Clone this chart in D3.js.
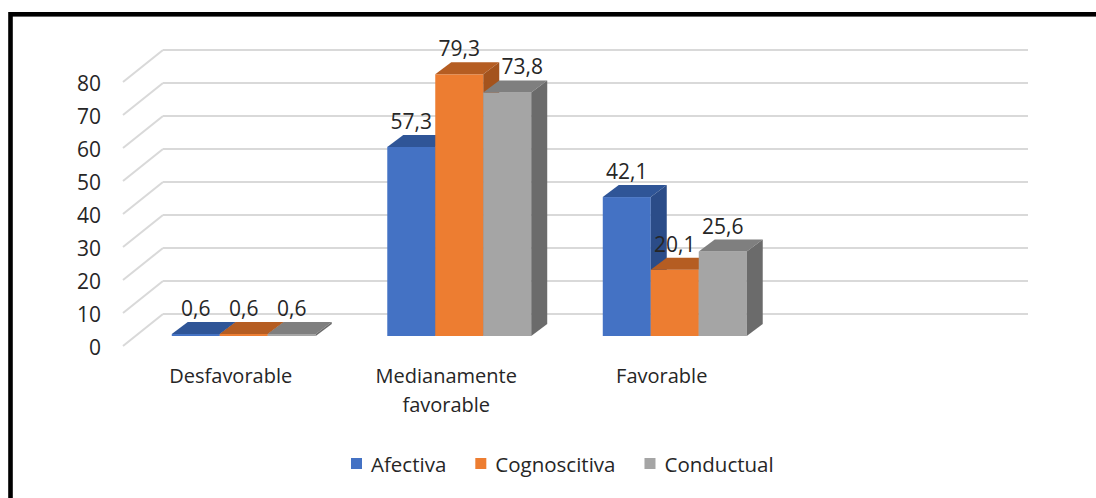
<!DOCTYPE html>
<html>
<head>
<meta charset="utf-8">
<script src="https://cdn.jsdelivr.net/npm/d3@7"></script>
<style>
  html, body { margin: 0; padding: 0; background: #fff; }
  svg { display: block; }
  text { font-family: "Open Sans", "Noto Sans", sans-serif; fill: #262626; }
</style>
</head>
<body>
<svg id="chart" width="1096" height="498"></svg>
<script>
// ---- data ----
const categories = ["Desfavorable", "Medianamente favorable", "Favorable"];
const series = ["Afectiva", "Cognoscitiva", "Conductual"];
const afectiva = [0.6, 57.3, 42.1];
const cognoscitiva = [0.6, 79.3, 20.1];
const conductual = [0.6, 73.8, 25.6];
const yTicks = [0, 10, 20, 30, 40, 50, 60, 70, 80];
const seriesValues = [afectiva, cognoscitiva, conductual];

const colors = {
  front: ["#4472C4", "#ED7D31", "#A5A5A5"],
  top:   ["#2F5597", "#B55D22", "#7F7F7F"],
  side:  ["#2B4C88", "#A4531D", "#6B6B6B"]
};

const svg = d3.select("#chart");

// frame
svg.append("rect")
  .attr("x", 10.5).attr("y", 14.3)
  .attr("width", 1200).attr("height", 600)
  .attr("fill", "none").attr("stroke", "#000").attr("stroke-width", 4.6);

// ---- scales ----
// Excel leaves an empty 4th category slot on the axis
const slots = categories.concat(["\u00a0"]);
const x = d3.scaleBand().domain(slots).range([136, 998])
  .paddingInner(0.332).paddingOuter(0.166);
const xs = d3.scaleBand().domain(series).range([0, x.bandwidth()]);
const y = d3.scaleLinear().domain([0, 80]).range([336, 72]); // bar plane

const backDX = 0, backDY = -22;   // back wall relative to bar plane
const frontDX = -40, frontDY = 10; // floor front edge relative to bar plane
const wallLeft = 163, wallRight = 1028;
const depthX = 16, depthY = -12;   // bar depth

// ---- gridlines ----
const grid = svg.append("g");
yTicks.forEach(v => {
  const yb = y(v) + backDY;
  const yf = y(v) + frontDY;
  grid.append("line")
    .attr("x1", wallLeft).attr("x2", wallRight)
    .attr("y1", yb).attr("y2", yb)
    .attr("stroke", "#D9D9D9").attr("stroke-width", 2);
  grid.append("line")
    .attr("x1", wallLeft + frontDX).attr("y1", yf)
    .attr("x2", wallLeft).attr("y2", yb)
    .attr("stroke", "#D9D9D9").attr("stroke-width", 2);
  svg.append("text")
    .attr("x", 101).attr("y", yf + 1)
    .attr("text-anchor", "end").attr("dominant-baseline", "central")
    .style("font-size", "21px")
    .text(v);
});

// ---- bars ----
const bars = svg.append("g");
categories.forEach((c, ci) => {
  series.forEach((s, si) => {
    const v = seriesValues[si][ci];
    const x0 = x(c) + xs(s), w = xs.bandwidth();
    const yt = y(v), yb = y(0);
    bars.append("rect")
      .attr("x", x0).attr("y", yt).attr("width", w).attr("height", Math.max(0.8, yb - yt))
      .attr("fill", colors.front[si]);
    bars.append("polygon")
      .attr("points", [[x0, yt], [x0 + depthX, yt + depthY], [x0 + w + depthX, yt + depthY], [x0 + w, yt]].join(" "))
      .attr("fill", colors.top[si]);
    bars.append("polygon")
      .attr("points", [[x0 + w, yt], [x0 + w + depthX, yt + depthY], [x0 + w + depthX, yb + depthY], [x0 + w, yb]].join(" "))
      .attr("fill", colors.side[si]);
  });
});

// ---- data labels ----
categories.forEach((c, ci) => {
  series.forEach((s, si) => {
    const v = seriesValues[si][ci];
    let cx = x(c) + xs(s) + xs.bandwidth() / 2;
    // Excel nudges a label right when the bar to its left is much taller
    if (si > 0 && seriesValues[si - 1][ci] - v > 3 && seriesValues[si - 1][ci] - v < 10) cx += 15;
    svg.append("text")
      .attr("x", cx).attr("y", y(v) + depthY - 6)
      .attr("text-anchor", "middle")
      .style("font-size", "21px")
      .text(String(v).replace(".", ","));
  });
});

// ---- category labels ----
categories.forEach(c => {
  const cx = x(c) + x.bandwidth() / 2 - 13;
  const t = svg.append("text")
    .attr("x", cx).attr("y", 383)
    .attr("text-anchor", "middle")
    .style("font-size", "20px");
  const words = c.split(" ");
  let line = [], lineNo = 0;
  let tspan = t.append("tspan").attr("x", cx).attr("dy", 0);
  words.forEach(wd => {
    line.push(wd);
    tspan.text(line.join(" "));
    if (tspan.node().getComputedTextLength() > 190 && line.length > 1) {
      line.pop();
      tspan.text(line.join(" "));
      line = [wd];
      lineNo++;
      tspan = t.append("tspan").attr("x", cx).attr("dy", 29).text(wd);
    }
  });
});

// ---- legend ----
let lx = 351;
const legendY = 464;
series.forEach((s, si) => {
  svg.append("rect")
    .attr("x", lx).attr("y", legendY - 6).attr("width", 11).attr("height", 11)
    .attr("fill", colors.front[si]);
  const t = svg.append("text")
    .attr("x", lx + 20).attr("y", legendY)
    .attr("dominant-baseline", "central")
    .style("font-size", "20.5px")
    .text(s);
  lx += 20 + t.node().getComputedTextLength() + 29;
});
</script>
</body>
</html>
